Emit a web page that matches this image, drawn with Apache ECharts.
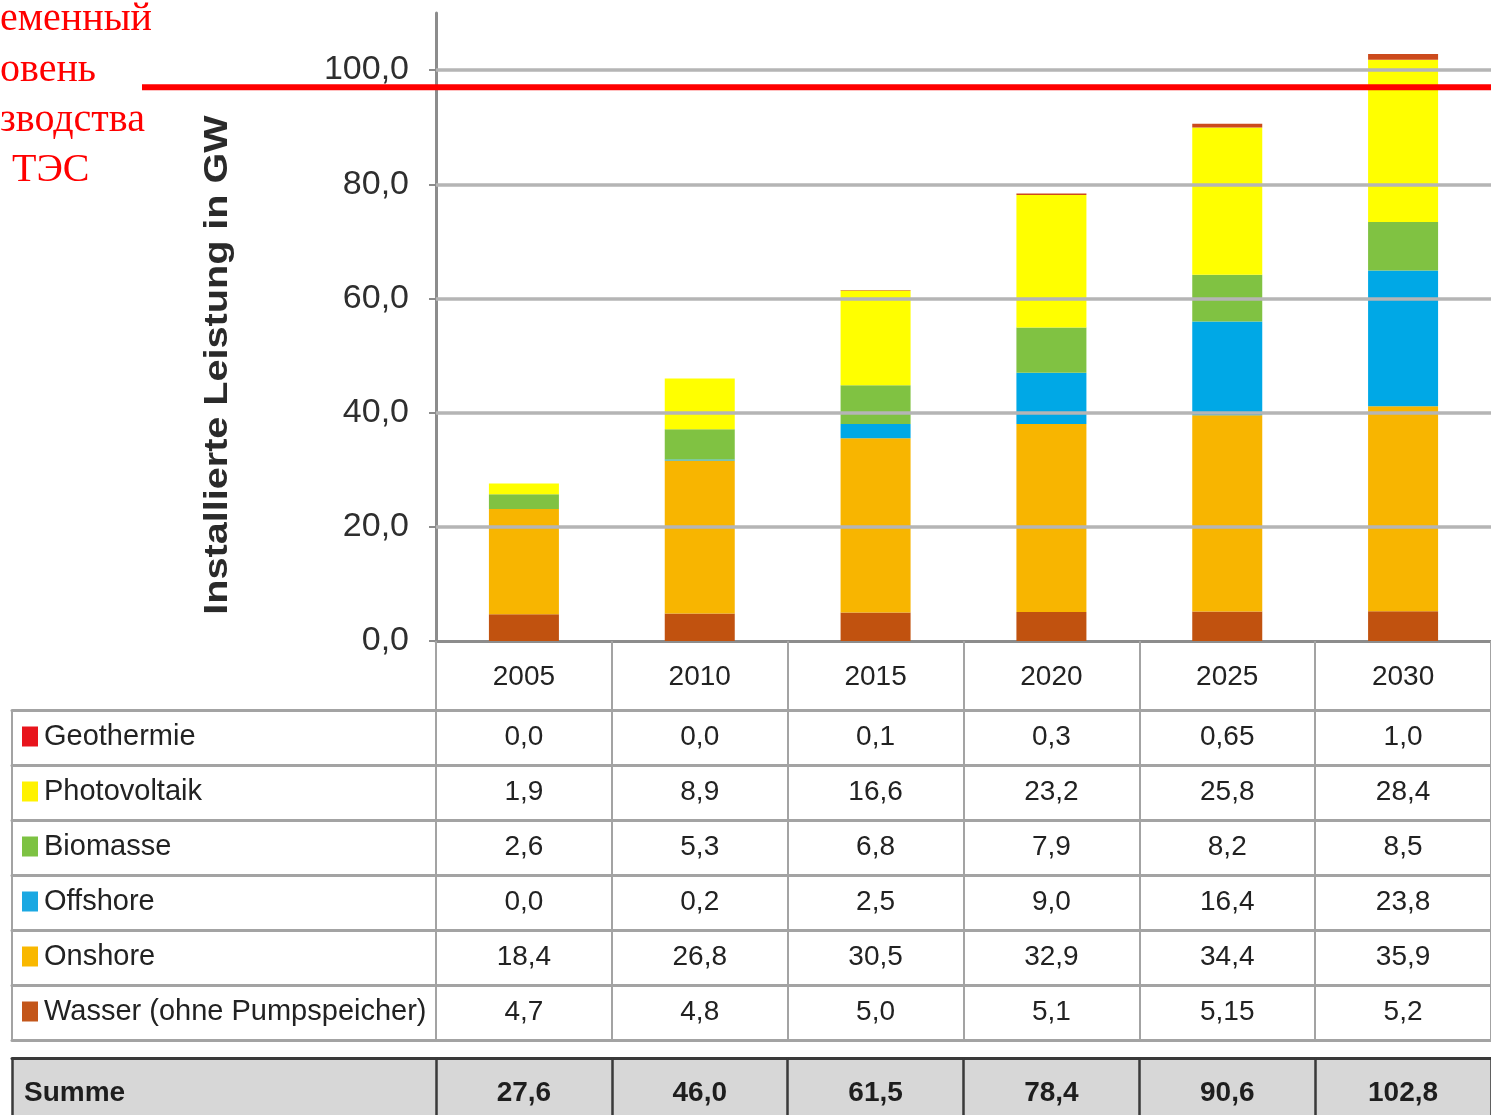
<!DOCTYPE html>
<html>
<head>
<meta charset="utf-8">
<script src="https://cdn.jsdelivr.net/npm/echarts@6/dist/echarts.min.js"></script>
<style>
  html, body { margin: 0; padding: 0; background: #ffffff; }
  #chart { width: 1491px; height: 1115px; }
</style>
</head>
<body>
<div id="chart"></div>
<script>
// ---------------- data ----------------
const years = ['2005', '2010', '2015', '2020', '2025', '2030'];
const geothermie   = [0.0, 0.0, 0.1, 0.3, 0.65, 1.0];
const photovoltaik = [1.9, 8.9, 16.6, 23.2, 25.8, 28.4];
const biomasse     = [2.6, 5.3, 6.8, 7.9, 8.2, 8.5];
const offshore     = [0.0, 0.2, 2.5, 9.0, 16.4, 23.8];
const onshore      = [18.4, 26.8, 30.5, 32.9, 34.4, 35.9];
const wasser       = [4.7, 4.8, 5.0, 5.1, 5.15, 5.2];
const totals       = [27.6, 46.0, 61.5, 78.4, 90.6, 102.8];
const yTicks       = [0, 20, 40, 60, 80, 100];
const tesLevel     = 97;   // level of the red line (GW)
const seriesNames  = ['Geothermie', 'Photovoltaik', 'Biomasse', 'Offshore', 'Onshore', 'Wasser (ohne Pumpspeicher)'];
const yAxisTitle   = 'Installierte Leistung in GW';
const sumLabel     = 'Summe';
const noteLines    = ['еменный', 'овень', 'зводства', 'ТЭС'];

// ---------------- styles ----------------
const FONT = '"Liberation Sans", Arial, sans-serif';
const TXT = '#222222';
const LINE = '#a3a3a3';
const DARK = '#3a3a3a';
const barColors = {
  'Geothermie': '#cc4a1c',
  'Photovoltaik': '#ffff00',
  'Biomasse': '#80c242',
  'Offshore': '#00a8e6',
  'Onshore': '#f8b500',
  'Wasser (ohne Pumpspeicher)': '#c1520f'
};
const keyColors = {
  'Geothermie': '#e8141c',
  'Photovoltaik': '#fff200',
  'Biomasse': '#7dc243',
  'Offshore': '#1aa8e2',
  'Onshore': '#f9b800',
  'Wasser (ohne Pumpspeicher)': '#c3561a'
};
const rowValues = [geothermie, photovoltaik, biomasse, offshore, onshore, wasser];
const stackOrder = [5, 4, 3, 2, 1, 0]; // bottom -> top

function fmt(v) {
  const s = (Math.round(v * 100) % 10 !== 0) ? v.toFixed(2) : v.toFixed(1);
  return s.replace('.', ',');
}

const HEADER_H = 69, ROW_H = 55, SUM_GAP = 18, SUM_H = 57;

function tableAxis(grid, data, off, opts) {
  return Object.assign({
    type: 'category', gridIndex: grid, data: data, position: 'bottom', offset: off,
    axisLine: { show: true, onZero: false, lineStyle: { color: LINE, width: 3 } },
    axisTick: { show: true, length: ROW_H, interval: 0, lineStyle: { color: LINE, width: 2 } },
    splitLine: { show: false }
  }, opts);
}

// ---------------- axes ----------------
const xAxes = [];
// year header axis (grid 0) -- used by bars
xAxes.push(tableAxis(0, years, 0, {
  axisLine: { show: true, onZero: false, lineStyle: { color: '#8c8c8c', width: 3 } },
  axisTick: { show: true, length: HEADER_H, interval: 0, lineStyle: { color: LINE, width: 2 } },
  axisLabel: { interval: 0, margin: 22, fontSize: 28, fontFamily: FONT, color: TXT }
}));

const rich = {
  t: { align: 'left', fontSize: 29, fontFamily: FONT, color: TXT },
  sp: { align: 'left', width: 6 },
  s: { width: 400, align: 'left', fontSize: 28, fontWeight: 'bold', fontFamily: FONT, color: '#1e1e1e' }
};
seriesNames.forEach((n, i) => {
  rich['sq' + i] = { align: 'left', width: 16, height: 20, backgroundColor: keyColors[n] };
});

seriesNames.forEach((n, i) => {
  const off = HEADER_H + ROW_H * i;
  xAxes.push(tableAxis(0, years, off, {
    axisLabel: {
      interval: 0, margin: 13, fontSize: 28, fontFamily: FONT, color: TXT,
      formatter: (val, idx) => fmt(rowValues[i][idx])
    }
  }));
  xAxes.push(tableAxis(1, [n], off, {
    axisLabel: {
      interval: 0, margin: 12, width: 404, align: 'center',
      formatter: (val) => '{sq' + i + '| }{sp| }{t|' + val + '}',
      rich: rich
    }
  }));
});
// bottom border of rows
const bottomOff = HEADER_H + ROW_H * seriesNames.length;
[0, 1].forEach(g => {
  xAxes.push(tableAxis(g, g === 0 ? years : [''], bottomOff, {
    axisTick: { show: false }, axisLabel: { show: false }
  }));
});
// Summe row
const sumOff = bottomOff + SUM_GAP;
xAxes.push(tableAxis(0, years, sumOff, {
  axisLine: { show: true, onZero: false, lineStyle: { color: DARK, width: 3 } },
  axisTick: { show: true, length: SUM_H, interval: 0, lineStyle: { color: DARK, width: 2.5 } },
  axisLabel: {
    interval: 0, margin: 21, fontSize: 28, fontWeight: 'bold', fontFamily: FONT, color: '#1e1e1e',
    formatter: (val, idx) => fmt(totals[idx])
  }
}));
xAxes.push(tableAxis(1, [sumLabel], sumOff, {
  axisLine: { show: true, onZero: false, lineStyle: { color: DARK, width: 3 } },
  axisTick: { show: true, length: SUM_H, interval: 0, lineStyle: { color: DARK, width: 2.5 } },
  axisLabel: { interval: 0, margin: 21, formatter: (val) => '{s|' + val + '}', rich: rich }
}));
// axis for the Summe background grid
xAxes.push({ type: 'category', gridIndex: 2, data: [''], show: false });

const yAxes = [
  {
    type: 'value', gridIndex: 0, min: 0, max: 110, interval: 10,
    axisLine: { show: true, lineStyle: { color: '#8c8c8c', width: 3 } },
    axisTick: { show: true, length: 7, customValues: yTicks, lineStyle: { color: '#8c8c8c', width: 2 } },
    axisLabel: {
      customValues: yTicks, margin: 27, fontSize: 34, fontFamily: FONT, color: '#2e2e2e',
      formatter: v => v.toFixed(1).replace('.', ',')
    },
    splitLine: { show: false }
  },
  { type: 'value', gridIndex: 1, show: false },
  { type: 'value', gridIndex: 2, show: false }
];

// ---------------- series ----------------
const series = stackOrder.map(i => ({
  name: seriesNames[i], type: 'bar', stack: 'total',
  xAxisIndex: 0, yAxisIndex: 0, barWidth: 70, z: 3,
  itemStyle: { color: barColors[seriesNames[i]] },
  data: rowValues[i]
}));
// gridlines behind bars
series.push({
  type: 'line', xAxisIndex: 0, yAxisIndex: 0, data: [], z: 1, silent: true,
  markLine: {
    silent: true, symbol: ['none', 'none'], label: { show: false },
    lineStyle: { color: '#b5b5b5', width: 3.5, type: 'solid' },
    data: yTicks.filter(v => v > 0).map(v => ({ yAxis: v }))
  }
});

const chart = echarts.init(document.getElementById('chart'), null, { renderer: 'canvas' });
chart.setOption({
  backgroundColor: '#ffffff',
  animation: false,
  grid: [
    { left: 436, right: 0, top: 13, bottom: 474 },
    { left: 12, width: 424, top: 13, bottom: 474 },
    { left: 12, right: 0, top: 1115 - 474 + sumOff, bottom: 0, show: true, backgroundColor: '#d7d7d7', borderWidth: 0 }
  ],
  xAxis: xAxes,
  yAxis: yAxes,
  series: series
});

// annotations: y-axis title, red level line, red note
const lineY = chart.convertToPixel({ yAxisIndex: 0 }, tesLevel);
const noteTop = [-1, 50, 100, 150];
const noteX = [0, 0, 0, 12];
const graphics = [
  {
    type: 'text', x: 218, y: 365, rotation: Math.PI / 2, scaleX: 1.2,
    style: { text: yAxisTitle, font: 'bold 33px "Liberation Sans", Arial, sans-serif', fill: '#2a2a2a', align: 'center', verticalAlign: 'middle' }
  },
  {
    type: 'line', z: 100,
    shape: { x1: 142, y1: lineY, x2: 1491, y2: lineY },
    style: { stroke: '#ff0000', lineWidth: 6 }
  }
];
noteLines.forEach((t, i) => {
  graphics.push({
    type: 'text', x: noteX[i], y: noteTop[i], z: 100,
    style: { text: t, font: '40px "Liberation Serif", "Times New Roman", serif', fill: '#ff0000', align: 'left', verticalAlign: 'top' }
  });
});
chart.setOption({ graphic: graphics });
</script>
</body>
</html>
